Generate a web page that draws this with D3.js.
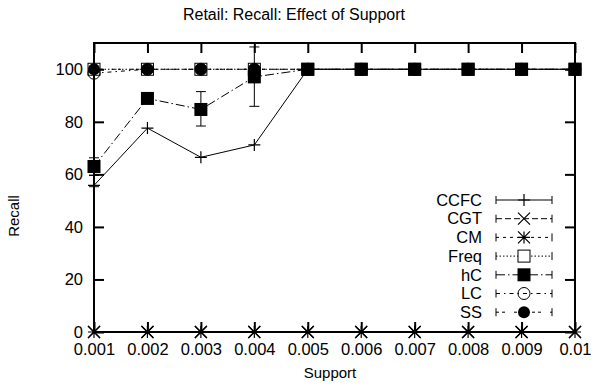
<!DOCTYPE html>
<html>
<head>
<meta charset="utf-8">
<script src="https://cdn.jsdelivr.net/npm/d3@7"></script>
<style>
  body { margin: 0; background: #fff; }
  text { font-family: "Liberation Sans", Arial, sans-serif; fill: #000; }
</style>
</head>
<body>
<div id="wrapper"></div>
<script>
// data
const support = [0.001, 0.002, 0.003, 0.004, 0.005, 0.006, 0.007, 0.008, 0.009, 0.01]
const xTickLabels = ["0.001", "0.002", "0.003", "0.004", "0.005", "0.006", "0.007", "0.008", "0.009", "0.01"]
const yTicks = [0, 20, 40, 60, 80, 100]

const ccfc = [55.8, 77.6, 66.5, 71.2, 100, 100, 100, 100, 100, 100]
const ccfcLow = [55.3, 77.6, 66.5, 71.2, 100, 100, 100, 100, 100, 100]
const ccfcHigh = [59.7, 77.6, 66.5, 71.2, 100, 100, 100, 100, 100, 100]
const cgt = [0, 0, 0, 0, 0, 0, 0, 0, 0, 0]
const cm = [0, 0, 0, 0, 0, 0, 0, 0, 0, 0]
const freq = [100, 100, 100, 100, 100, 100, 100, 100, 100, 100]
const hc = [63, 88.9, 84.7, 97.1, 100, 100, 100, 100, 100, 100]
const hcLow = [59.6, 88.9, 78.4, 85.9, 100, 100, 100, 100, 100, 100]
const hcHigh = [66.3, 88.9, 91.5, 108.5, 100, 100, 100, 100, 100, 100]
const lc = [98.5, 100, 100, 100, 100, 100, 100, 100, 100, 100]
const ss = [100, 100, 100, 100, 100, 100, 100, 100, 100, 100]

const seriesNames = ["CCFC", "CGT", "CM", "Freq", "hC", "LC", "SS"]

function drawChart() {
  const dimensions = {
    width: 595,
    height: 392,
    margin: { top: 43, right: 20, bottom: 60, left: 94 },
  }
  dimensions.boundedWidth = dimensions.width - dimensions.margin.left - dimensions.margin.right
  dimensions.boundedHeight = dimensions.height - dimensions.margin.top - dimensions.margin.bottom

  const wrapper = d3.select("#wrapper")
    .append("svg")
    .attr("width", dimensions.width)
    .attr("height", dimensions.height)
  const bounds = wrapper.append("g")
    .attr("transform", `translate(${dimensions.margin.left},${dimensions.margin.top})`)

  const xScale = d3.scaleLinear()
    .domain([0.001, 0.01])
    .range([0, dimensions.boundedWidth])
  const yScale = d3.scaleLinear()
    .domain([0, 110])
    .range([dimensions.boundedHeight, 0])

  // axes, ticks pointing inward like gnuplot, mirrored on top/right
  const tickLen = 10
  bounds.append("g")
    .attr("transform", `translate(0,${dimensions.boundedHeight})`)
    .call(d3.axisBottom(xScale).tickValues(support)
      .tickFormat((d, i) => xTickLabels[i]).tickSize(-tickLen).tickPadding(11))
  bounds.append("g")
    .call(d3.axisLeft(yScale).tickValues(yTicks).tickSize(-tickLen).tickPadding(11))
  bounds.append("g")
    .call(d3.axisTop(xScale).tickValues(support).tickFormat("").tickSize(-tickLen))
  bounds.append("g")
    .attr("transform", `translate(${dimensions.boundedWidth},0)`)
    .call(d3.axisRight(yScale).tickValues(yTicks).tickFormat("").tickSize(-tickLen))
  bounds.selectAll(".domain").remove()
  bounds.selectAll(".tick line").attr("stroke", "#000").attr("stroke-width", 2)
  bounds.selectAll(".tick text").style("font-size", "16.5px")
    .style("font-family", '"Liberation Sans", Arial, sans-serif')

  // series setup
  const series = [
    { name: "CCFC", values: ccfc, low: ccfcLow, high: ccfcHigh, dash: null, marker: "plus" },
    { name: "CGT", values: cgt, dash: "6,3", marker: "cross" },
    { name: "CM", values: cm, dash: "3,4", marker: "star" },
    { name: "Freq", values: freq, dash: "1.5,2", marker: "openSquare" },
    { name: "hC", values: hc, low: hcLow, high: hcHigh, dash: "9,3,1.5,3", marker: "square" },
    { name: "LC", values: lc, dash: "4,4,1.5,4", marker: "openCircle" },
    { name: "SS", values: ss, dash: "3,3,3,9", marker: "circle" },
  ]

  const lineGenerator = d3.line()
    .x((d, i) => xScale(support[i]))
    .y(d => yScale(d))

  function drawMarker(g, type, x, y) {
    const s = 6
    if (type === "plus") {
      g.append("path").attr("d", `M${x - s},${y}H${x + s}M${x},${y - s}V${y + s}`)
        .attr("stroke", "#000").attr("stroke-width", 1.2)
    } else if (type === "cross") {
      g.append("path").attr("d", `M${x - s},${y - s}L${x + s},${y + s}M${x - s},${y + s}L${x + s},${y - s}`)
        .attr("stroke", "#000").attr("stroke-width", 1.2)
    } else if (type === "star") {
      g.append("path").attr("d", `M${x - s},${y}H${x + s}M${x},${y - s}V${y + s}M${x - s},${y - s}L${x + s},${y + s}M${x - s},${y + s}L${x + s},${y - s}`)
        .attr("stroke", "#000").attr("stroke-width", 1.2)
    } else if (type === "openSquare") {
      g.append("rect").attr("x", x - s).attr("y", y - s).attr("width", 2 * s).attr("height", 2 * s)
        .attr("fill", "#fff").attr("stroke", "#000").attr("stroke-width", 1)
    } else if (type === "square") {
      g.append("rect").attr("x", x - s - 0.5).attr("y", y - s - 0.5).attr("width", 2 * s + 1).attr("height", 2 * s + 1)
        .attr("fill", "#000")
    } else if (type === "openCircle") {
      g.append("circle").attr("cx", x).attr("cy", y).attr("r", s)
        .attr("fill", "none").attr("stroke", "#000").attr("stroke-width", 1)
    } else if (type === "circle") {
      g.append("circle").attr("cx", x).attr("cy", y).attr("r", s).attr("fill", "#000")
    }
  }

  const plot = bounds.append("g")
  series.forEach(s => {
    const g = plot.append("g")
    g.append("path")
      .attr("d", lineGenerator(s.values))
      .attr("fill", "none")
      .attr("stroke", "#000")
      .attr("stroke-width", 1)
      .attr("stroke-dasharray", s.dash)
    if (s.low) {
      s.values.forEach((v, i) => {
        if (s.low[i] === s.high[i]) return
        const x = xScale(support[i])
        const y0 = yScale(s.low[i]), y1 = yScale(s.high[i])
        g.append("path")
          .attr("d", `M${x},${y0}V${y1}M${x - 5},${y0}H${x + 5}M${x - 5},${y1}H${x + 5}`)
          .attr("stroke", "#000").attr("stroke-width", 1)
      })
    }
    s.values.forEach((v, i) => drawMarker(g, s.marker, xScale(support[i]), yScale(v)))
  })

  // border
  bounds.append("rect")
    .attr("width", dimensions.boundedWidth)
    .attr("height", dimensions.boundedHeight)
    .attr("fill", "none")
    .attr("stroke", "#000")
    .attr("stroke-width", 2)

  // legend
  const legend = wrapper.append("g")
  series.forEach((s, i) => {
    const y = 200 + i * 18.7
    legend.append("text")
      .attr("x", 482).attr("y", y)
      .attr("dy", "0.35em")
      .attr("text-anchor", "end")
      .style("font-size", "16.5px")
      .text(s.name)
    legend.append("path")
      .attr("d", `M496,${y}H552`)
      .attr("stroke", "#000").attr("stroke-width", 1)
      .attr("stroke-dasharray", s.dash)
    legend.append("path")
      .attr("d", `M496,${y - 4}V${y + 4}M552,${y - 4}V${y + 4}`)
      .attr("stroke", "#000").attr("stroke-width", 1)
    drawMarker(legend, s.marker, 524, y)
  })

  // title and axis labels
  wrapper.append("text")
    .attr("x", 294).attr("y", 20)
    .attr("text-anchor", "middle")
    .style("font-size", "16px")
    .text("Retail: Recall: Effect of Support")
  wrapper.append("text")
    .attr("x", 330).attr("y", 378)
    .attr("text-anchor", "middle")
    .style("font-size", "15px")
    .text("Support")
  wrapper.append("text")
    .attr("transform", "translate(19,216) rotate(-90)")
    .attr("text-anchor", "middle")
    .style("font-size", "15px")
    .text("Recall")
}
drawChart()
</script>
</body>
</html>
